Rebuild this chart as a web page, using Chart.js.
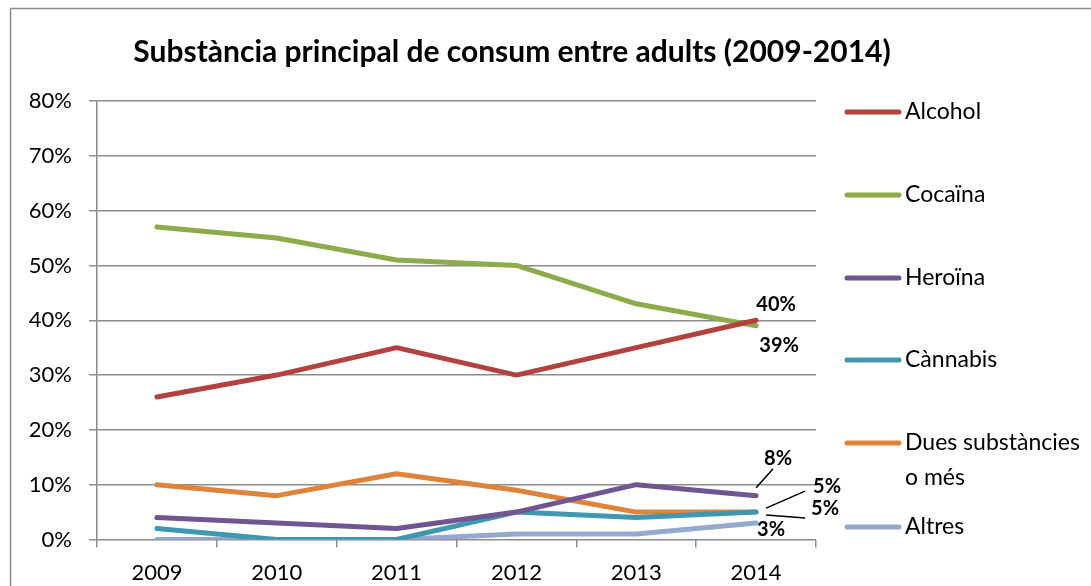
<!DOCTYPE html>
<html>
<head>
<meta charset="utf-8">
<script src="https://cdn.jsdelivr.net/npm/chart.js@4/dist/chart.umd.min.js"></script>
<style>
  html, body { margin: 0; padding: 0; background: #fff; }
  #wrap { width: 1091px; height: 586px; position: relative; }
</style>
</head>
<body>
<div id="wrap"><canvas id="drugChart"></canvas></div>
<script>
//   <------------ Data ------------->

const years = ['2009', '2010', '2011', '2012', '2013', '2014'];
const alcohol = [26, 30, 35, 30, 35, 40];
const cocaina = [57, 55, 51, 50, 43, 39];
const heroina = [4, 3, 2, 5, 10, 8];
const cannabis = [2, 0, 0, 5, 4, 5];
const duesOMes = [10, 8, 12, 9, 5, 5];
const altres = [0, 0, 0, 1, 1, 3];
const yTicks = [0, 10, 20, 30, 40, 50, 60, 70, 80];

const FONT = 'Lato, "Open Sans", sans-serif';

function series(label, values, color) {
  return {
    label: label,
    data: values,
    borderColor: color,
    backgroundColor: color,
    borderWidth: 5,
    borderCapStyle: 'round',
    borderJoinStyle: 'round',
    pointRadius: 0,
    tension: 0
  };
}

// where to put the value label of the last point (dx, dy from the point) and leader lines
const endLabels = [
  { dx: 20, dy: -16 },
  { dx: 23, dy: 20 },
  { dx: 22, dy: -37, lead: [0, -8, 17, -27] },
  { dx: 69, dy: -4, lead: [10, 3, 49, 6] },
  { dx: 71, dy: -26, lead: [10, -4, 49, -21] },
  { dx: 15, dy: 6 }
];

//   <------------ Extras: frame, title, legend, labels ------------->

const extras = {
  id: 'extras',
  beforeDraw(chart) {
    const c = chart.ctx;
    c.save();
    c.strokeStyle = '#8c8c8c';
    c.lineWidth = 1.5;
    c.strokeRect(10.5, 8.5, 1300, 800);
    c.restore();
  },
  afterDraw(chart) {
    const c = chart.ctx;
    c.save();
    // title
    c.fillStyle = '#000';
    c.font = 'bold 30px ' + FONT;
    c.textAlign = 'center';
    c.textBaseline = 'middle';
    c.fillText('Substància principal de consum entre adults (2009-2014)', 512, 52);

    // legend
    const legendY = [112, 195, 278, 360, 443, 527];
    c.font = '23px ' + FONT;
    c.textAlign = 'left';
    chart.data.datasets.forEach((ds, i) => {
      const y = legendY[i];
      c.strokeStyle = ds.borderColor;
      c.lineWidth = 5;
      c.lineCap = 'round';
      c.beginPath();
      c.moveTo(847, y);
      c.lineTo(899, y);
      c.stroke();
      // wrap text
      const words = ds.label.split(' ');
      const lines = [];
      let cur = '';
      words.forEach(w => {
        const t = cur ? cur + ' ' + w : w;
        if (c.measureText(t).width > 184 && cur) { lines.push(cur); cur = w; } else { cur = t; }
      });
      lines.push(cur);
      c.fillStyle = '#000';
      lines.forEach((l, k) => c.fillText(l, 905, y + k * 35));
    });

    // end-point labels
    c.font = 'bold 20px ' + FONT;
    c.textAlign = 'center';
    chart.data.datasets.forEach((ds, i) => {
      const meta = chart.getDatasetMeta(i);
      const last = meta.data[meta.data.length - 1];
      const v = ds.data[ds.data.length - 1];
      const o = endLabels[i];
      c.fillStyle = '#000';
      c.fillText(v + '%', last.x + o.dx, last.y + o.dy);
      if (o.lead) {
        c.strokeStyle = '#000';
        c.lineWidth = 1.5;
        c.lineCap = 'butt';
        c.beginPath();
        c.moveTo(last.x + o.lead[0], last.y + o.lead[1]);
        c.lineTo(last.x + o.lead[2], last.y + o.lead[3]);
        c.stroke();
      }
    });
    c.restore();
  }
};

//   <------------ Chart ------------->

const ctx = document.getElementById('drugChart').getContext('2d');

const config = {
  type: 'line',
  data: {
    labels: years,
    datasets: [
      series('Alcohol', alcohol, '#b3413e'),
      series('Cocaïna', cocaina, '#8dab4b'),
      series('Heroïna', heroina, '#705593'),
      series('Cànnabis', cannabis, '#3f98b0'),
      series('Dues substàncies o més', duesOMes, '#e0833a'),
      series('Altres', altres, '#94a9ce')
    ]
  },
  options: {
    responsive: true,
    maintainAspectRatio: false,
    animation: false,
    layout: { padding: { top: 101, right: 275, left: 0, bottom: 0 } },
    plugins: {
      legend: { display: false },
      title: { display: false },
      tooltip: { enabled: false }
    },
    scales: {
      x: {
        offset: true,
        grid: {
          offset: true,
          drawOnChartArea: false,
          color: '#8c8c8c',
          lineWidth: 1.5,
          tickLength: 8
        },
        border: { display: false },
        ticks: {
          color: '#000',
          font: { family: FONT, size: 22 },
          padding: 12,
          maxRotation: 0
        },
        afterFit(scale) { scale.height = 46.5; }
      },
      y: {
        min: 0,
        max: 80,
        afterBuildTicks(scale) { scale.ticks = yTicks.map(v => ({ value: v })); },
        grid: {
          color: '#8c8c8c',
          lineWidth: 1.5,
          tickLength: 8
        },
        border: { display: true, color: '#8c8c8c', width: 1.5 },
        ticks: {
          color: '#000',
          font: { family: FONT, size: 22 },
          padding: 17,
          callback: v => v + '%'
        },
        afterFit(scale) { scale.width = 97; }
      }
    }
  },
  plugins: [extras]
};

var drugChart = new Chart(ctx, config);
</script>
</body>
</html>
